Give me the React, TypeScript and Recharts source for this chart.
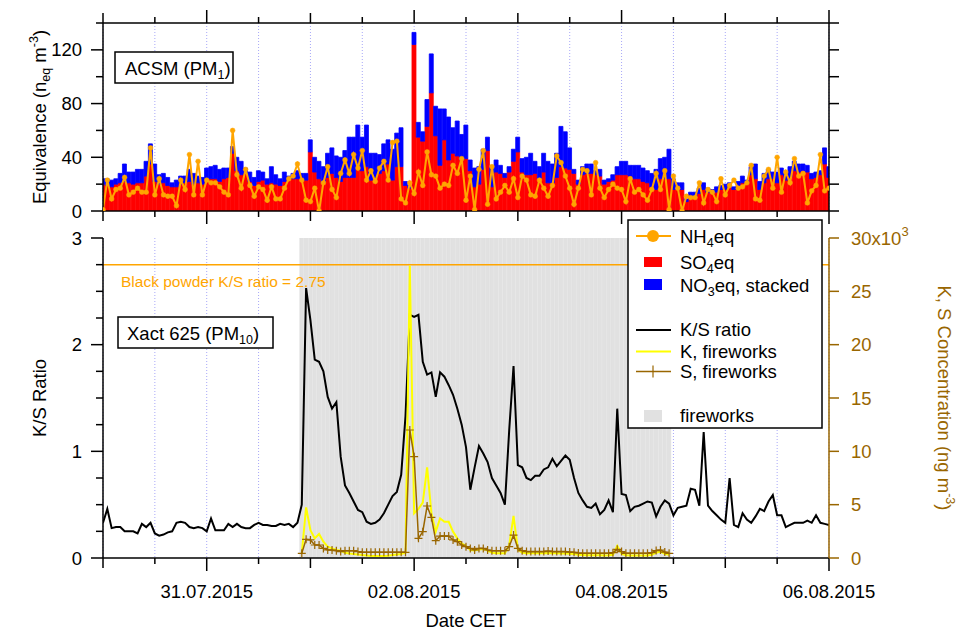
import React from 'react';
import { ComposedChart, Bar, Line, XAxis, YAxis, CartesianGrid, ReferenceLine } from 'recharts';

// ---------- DATA (hourly, hour 0 = 30.07.2015 00:00 CET) ----------
const so4eq = [
  20, 19, 18, 20, 21, 22, 21, 20, 21, 21,
  26, 35, 22, 20, 21, 19, 18, 18, 20, 21,
  22, 20, 21, 20, 23, 24, 24, 22, 24, 25,
  43, 30, 27, 28, 22, 19, 22, 23, 20, 21,
  20, 19, 22, 24, 24, 24, 24, 23, 44, 29,
  24, 21, 25, 28, 25, 22, 25, 25, 25, 33,
  30, 33, 23, 25, 28, 30, 35, 23, 33, 33,
  19, 17, 124, 55, 52, 63, 88, 56, 34, 53,
  38, 43, 41, 38, 39, 30, 18, 20, 31, 45,
  18, 29, 28, 25, 29, 37, 44, 29, 27, 27,
  28, 24, 29, 21, 21, 25, 33, 32, 31, 28,
  20, 27, 28, 28, 27, 26, 20, 22, 23, 27,
  27, 27, 26, 24, 24, 22, 21, 18, 16, 24,
  24, 24, 16, 16, 16, 7, 11, 11, 13, 16,
  14, 13, 14, 16, 16, 18, 16, 19, 21, 21,
  27, 24, 16, 21, 24, 24, 21, 27, 23, 25,
  30, 29, 30, 29, 24, 25, 27, 35, 25,
];

const no3eq = [
  4, 5, 5, 4, 7, 13, 8, 9, 10, 10,
  11, 15, 13, 7, 7, 6, 3, 5, 6, 5,
  9, 8, 5, 5, 9, 9, 10, 9, 8, 7,
  5, 10, 10, 4, 7, 6, 8, 6, 4, 12,
  7, 5, 7, 2, 4, 6, 4, 5, 9, 11,
  13, 12, 18, 19, 16, 18, 20, 30, 30, 31,
  25, 31, 20, 18, 14, 20, 18, 23, 25, 29,
  3, 2, 9, 11, 7, 20, 29, 22, 42, 23,
  32, 19, 26, 19, 25, 8, 14, 13, 15, 10,
  15, 9, 6, 3, 4, 9, 11, 10, 13, 16,
  9, 9, 14, 16, 14, 18, 30, 27, 16, 3,
  3, 6, 7, 7, 3, 5, 3, 2, 4, 6,
  10, 10, 8, 10, 10, 10, 9, 10, 15, 15,
  16, 22, 8, 5, 5, 2, 3, 3, 4, 5,
  3, 3, 4, 3, 4, 3, 2, 3, 5, 2,
  6, 11, 6, 7, 7, 5, 8, 5, 5, 8,
  7, 6, 5, 5, 4, 4, 3, 12, 8,
];

const nh4eq = [
  1, 23, 9, 16, 17, 25, 12, 14, 17, 14,
  14, 47, 12, 24, 12, 11, 11, 4, 23, 16,
  42, 12, 37, 12, 23, 21, 21, 18, 14, 12,
  60, 27, 17, 31, 19, 11, 18, 16, 8, 18,
  9, 9, 17, 24, 26, 35, 23, 8, 7, 17,
  0, 21, 33, 16, 10, 28, 38, 28, 42, 32,
  45, 23, 30, 22, 32, 37, 23, 51, 52, 9,
  6, 21, 13, 29, 19, 44, 27, 26, 17, 20,
  19, 34, 28, 39, 8, 26, 1, 31, 45, 5,
  33, 9, 14, 19, 14, 24, 10, 26, 23, 12,
  11, 23, 17, 11, 19, 41, 36, 26, 17, 5,
  17, 31, 30, 12, 36, 17, 10, 16, 20, 17,
  16, 7, 24, 14, 16, 12, 8, 16, 28, 16,
  30, 1, 26, 17, 0, 11, 10, 10, 21, 6,
  16, 14, 7, 24, 12, 19, 23, 17, 18, 21,
  34, 9, 8, 26, 31, 17, 40, 14, 29, 21,
  39, 26, 28, 6, 15, 19, 42, 15, 17,
];

const ksRatio = [
  0.33, 0.46, 0.28, 0.29, 0.29, 0.25, 0.25, 0.25, 0.23, 0.32,
  0.29, 0.33, 0.23, 0.21, 0.22, 0.24, 0.25, 0.33, 0.34, 0.33,
  0.29, 0.28, 0.29, 0.28, 0.25, 0.37, 0.26, 0.26, 0.26, 0.32,
  0.29, 0.32, 0.29, 0.28, 0.28, 0.31, 0.33, 0.31, 0.31, 0.30,
  0.30, 0.32, 0.31, 0.32, 0.29, 0.33, 0.50, 2.53, 2.23, 1.86,
  1.84, 1.75, 1.51, 1.40, 1.46, 0.95, 0.68, 0.61, 0.53, 0.45,
  0.43, 0.34, 0.32, 0.33, 0.36, 0.42, 0.50, 0.58, 0.62, 0.78,
  1.33, 2.28, 2.26, 2.28, 1.84, 1.72, 1.74, 1.51, 1.74, 1.70,
  1.62, 1.53, 1.40, 1.25, 1.04, 0.64, 0.85, 1.05, 0.98, 0.90,
  0.75, 0.68, 0.61, 0.50, 1.20, 1.80, 0.87, 0.85, 0.75, 0.73,
  0.77, 0.77, 0.83, 0.85, 0.93, 0.86, 0.91, 0.96, 0.92, 0.75,
  0.61, 0.54, 0.48, 0.47, 0.51, 0.41, 0.45, 0.54, 0.43, 1.40,
  0.60, 0.59, 0.44, 0.48, 0.49, 0.51, 0.53, 0.52, 0.39, 0.48,
  0.54, 0.51, 0.40, 0.47, 0.48, 0.49, 0.65, 0.64, 0.49, 1.18,
  0.49, 0.44, 0.40, 0.36, 0.33, 0.75, 0.31, 0.29, 0.42, 0.36,
  0.33, 0.39, 0.46, 0.44, 0.53, 0.59, 0.40, 0.40, 0.29, 0.31,
  0.33, 0.33, 0.33, 0.35, 0.33, 0.40, 0.33, 0.32, 0.31,
];

// fireworks period: hours 46 .. 131
const fireworksStart = 46;
const fireworksEnd = 131;

const kFireworks = [
  440, 4750, 2600, 1840, 2250, 1530, 1060, 900, 750, 690,
  500, 430, 375, 330, 280, 240, 190, 190, 190, 190,
  220, 280, 330, 375, 500, 27400, 4190, 4600, 5200, 8500,
  4200, 2470, 3720, 3400, 3400, 2470, 1840, 1375, 1125, 750,
  700, 800, 850, 700, 500, 450, 450, 450, 1200, 3940,
  800, 500, 450, 450, 450, 450, 450, 480, 450, 450,
  430, 430, 400, 380, 300, 280, 250, 250, 250, 250,
  230, 250, 300, 1125, 400, 250, 230, 230, 230, 230,
  230, 300, 500, 600, 400, 300,
];

const sFireworks = [
  440, 1750, 1690, 1220, 1220, 900, 750, 750, 690, 600,
  690, 690, 690, 600, 530, 530, 530, 530, 530, 530,
  530, 530, 530, 530, 530, 12000, 9500, 1840, 2470, 4875,
  3800, 1625, 2060, 2060, 2060, 1690, 1530, 1220, 1060, 900,
  750, 900, 900, 750, 690, 690, 690, 690, 1060, 2150,
  900, 690, 600, 600, 600, 600, 600, 650, 600, 600,
  600, 600, 560, 530, 470, 440, 440, 440, 440, 440,
  440, 440, 500, 810, 600, 440, 440, 440, 440, 440,
  440, 500, 700, 750, 560, 440,
];

const blackPowderRatio = 2.75;

const xTicks = [0, 12, 24, 36, 48, 60, 72, 84, 96, 108, 120, 132, 144, 156, 168];
const labelHours = [24, 72, 120, 168];
const dateLabels = ['31.07.2015', '02.08.2015', '04.08.2015', '06.08.2015'];
const topYTicks = [0, 20, 40, 60, 80, 100, 120, 140];
const ksTicks = [0, 0.25, 0.5, 0.75, 1, 1.25, 1.5, 1.75, 2, 2.25, 2.5, 2.75, 3];
const concTicks = [0, 5000, 10000, 15000, 20000, 25000, 30000];

// ---------- build tables ----------
const topData = so4eq.map((v, i) => ({ h: i, so4: v, no3: no3eq[i], nh4: nh4eq[i] }));
const bottomData = ksRatio.map((v, i) => {
  const inFw = i >= fireworksStart && i <= fireworksEnd;
  return {
    h: i,
    ks: v,
    k: inFw ? kFireworks[i - fireworksStart] : null,
    s: inFw ? sFireworks[i - fireworksStart] : null,
    fw: inFw ? 3 : null,
  };
});

// ---------- styles ----------
const FONT = '"Liberation Sans", Arial, Helvetica, sans-serif';
const FS = 18.5;
const RED = '#FF0000';
const BLUE = '#0000FF';
const ORANGE = '#FFA500';
const YELLOW = '#FFFF00';
const BROWN = '#996600';
const GRAY = '#E1E1E1';
const GRID = '#A8A8F8';

const W = 963;
const PLOT_L = 103;
const PLOT_R = 829;

function xTickLen(v: number) {
  if (labelHours.includes(v)) return 13;
  if (v % 24 === 0) return 10;
  return 6;
}

const TopEdgeTick = (p: any) => {
  const { x, y, payload } = p;
  const len = xTickLen(payload.value);
  return <line x1={x} x2={x} y1={y} y2={y - len} stroke="#000" strokeWidth={1.5} />;
};

const TopBottomTick = (p: any) => {
  const { x, y, payload } = p;
  const len = xTickLen(payload.value);
  return <line x1={x} x2={x} y1={y} y2={y + len} stroke="#000" strokeWidth={1.5} />;
};

const DateTick = (p: any) => {
  const { x, y, payload } = p;
  const v = payload.value;
  const i = labelHours.indexOf(v);
  return (
    <g>
      <line x1={x} x2={x} y1={y} y2={y + xTickLen(v)} stroke="#000" strokeWidth={1.5} />
      {i >= 0 && (
        <text x={x} y={y + 40} textAnchor="middle" fontSize={FS} fontFamily={FONT} fill="#000">
          {dateLabels[i]}
        </text>
      )}
    </g>
  );
};

const TopLeftTick = (p: any) => {
  const { x, y, payload } = p;
  const v = payload.value;
  const major = v % 40 === 0;
  return (
    <g>
      <line x1={x} x2={x - (major ? 12 : 7)} y1={y} y2={y} stroke="#000" strokeWidth={1.5} />
      {major && (
        <text x={x - 21} y={y + 6.5} textAnchor="end" fontSize={FS} fontFamily={FONT} fill="#000">
          {v}
        </text>
      )}
    </g>
  );
};

const TopRightTick = (p: any) => {
  const { x, y } = p;
  return <line x1={x} x2={x + 10} y1={y} y2={y} stroke="#000" strokeWidth={1.5} />;
};

const KsTick = (p: any) => {
  const { x, y, payload } = p;
  const v = payload.value;
  const major = Number.isInteger(v);
  return (
    <g>
      <line x1={x} x2={x - (major ? 12 : 7)} y1={y} y2={y} stroke="#000" strokeWidth={1.5} />
      {major && (
        <text x={x - 21} y={y + 6.5} textAnchor="end" fontSize={FS} fontFamily={FONT} fill="#000">
          {v}
        </text>
      )}
    </g>
  );
};

const ConcTick = (p: any) => {
  const { x, y, payload } = p;
  const v = payload.value / 1000;
  return (
    <g>
      <line x1={x} x2={x + 10} y1={y} y2={y} stroke={BROWN} strokeWidth={1.5} />
      <text x={x + 22} y={y + 6.5} textAnchor="start" fontSize={FS} fontFamily={FONT} fill={BROWN}>
        {v === 30 ? (
          <>
            30x10<tspan fontSize={13} dy={-9}>3</tspan>
          </>
        ) : (
          v
        )}
      </text>
    </g>
  );
};

const PlusDot = (props: any) => {
  const { cx, cy, index } = props;
  if (cx == null || cy == null || Number.isNaN(cy)) return <g key={`pd${index}`} />;
  return (
    <path
      key={`pd${index}`}
      d={`M${cx - 4},${cy}H${cx + 4}M${cx},${cy - 4}V${cy + 4}`}
      stroke={BROWN}
      strokeWidth={1.2}
      fill="none"
    />
  );
};

function TopChart() {
  return (
    <div style={{ position: 'absolute', left: 0, top: 0 }}>
      <ComposedChart
        width={W}
        height={240}
        data={topData}
        margin={{ top: 0, right: 0, bottom: 0, left: 0 }}
        barCategoryGap={0}
        barGap={0}
      >
        <CartesianGrid
          xAxisId="b"
          yAxisId="l"
          horizontal={false}
          stroke={GRID}
          strokeDasharray="1 2"
        />
        <XAxis
          xAxisId="t"
          orientation="top"
          type="number"
          dataKey="h"
          domain={[0, 168]}
          ticks={xTicks}
          interval={0}
          height={23}
          tickSize={0}
          tickMargin={0}
          tickLine={false}
          tick={TopEdgeTick}
          axisLine={{ stroke: '#000', strokeWidth: 1.5 }}
          allowDataOverflow
        />
        <XAxis
          xAxisId="b"
          orientation="bottom"
          type="number"
          dataKey="h"
          domain={[0, 168]}
          ticks={xTicks}
          interval={0}
          height={29}
          tickSize={0}
          tickMargin={0}
          tickLine={false}
          tick={TopBottomTick}
          axisLine={{ stroke: '#000', strokeWidth: 1.5 }}
          allowDataOverflow
        />
        <YAxis
          yAxisId="l"
          orientation="left"
          type="number"
          domain={[0, 140]}
          ticks={topYTicks}
          interval={0}
          width={PLOT_L}
          tickSize={0}
          tickMargin={0}
          tickLine={false}
          tick={TopLeftTick}
          axisLine={{ stroke: '#000', strokeWidth: 1.5 }}
          allowDataOverflow
        />
        <YAxis
          yAxisId="r"
          orientation="right"
          type="number"
          domain={[0, 140]}
          ticks={topYTicks}
          interval={0}
          width={W - PLOT_R}
          tickSize={0}
          tickMargin={0}
          tickLine={false}
          tick={TopRightTick}
          axisLine={{ stroke: '#000', strokeWidth: 1.5 }}
          allowDataOverflow
        />
        <Bar
          xAxisId="b"
          yAxisId="l"
          dataKey="so4"
          stackId="eq"
          fill={RED}
          stroke={RED}
          strokeWidth={0.8}
          isAnimationActive={false}
        />
        <Bar
          xAxisId="b"
          yAxisId="l"
          dataKey="no3"
          stackId="eq"
          fill={BLUE}
          stroke={BLUE}
          strokeWidth={0.8}
          isAnimationActive={false}
        />
        <Line
          xAxisId="b"
          yAxisId="l"
          dataKey="nh4"
          stroke={ORANGE}
          strokeWidth={2}
          dot={{ r: 2.4, fill: ORANGE, stroke: ORANGE, strokeWidth: 0.5 }}
          activeDot={false}
          isAnimationActive={false}
        />
      </ComposedChart>
    </div>
  );
}

function BottomChart() {
  return (
    <div style={{ position: 'absolute', left: 0, top: 215 }}>
      <ComposedChart
        width={W}
        height={416}
        data={bottomData}
        margin={{ top: 23, right: 0, bottom: 0, left: 0 }}
        barCategoryGap={0}
        barGap={0}
      >
        <CartesianGrid
          xAxisId="b"
          yAxisId="l"
          horizontal={false}
          stroke={GRID}
          strokeDasharray="1 2"
        />
        <XAxis
          xAxisId="b"
          orientation="bottom"
          type="number"
          dataKey="h"
          domain={[0, 168]}
          ticks={xTicks}
          interval={0}
          height={73}
          tickSize={0}
          tickMargin={0}
          tickLine={false}
          tick={DateTick}
          axisLine={{ stroke: '#000', strokeWidth: 1.5 }}
          allowDataOverflow
        />
        <YAxis
          yAxisId="l"
          orientation="left"
          type="number"
          domain={[0, 3]}
          ticks={ksTicks}
          interval={0}
          width={PLOT_L}
          tickSize={0}
          tickMargin={0}
          tickLine={false}
          tick={KsTick}
          axisLine={{ stroke: '#000', strokeWidth: 1.5 }}
          allowDataOverflow
        />
        <YAxis
          yAxisId="r"
          orientation="right"
          type="number"
          domain={[0, 30000]}
          ticks={concTicks}
          interval={0}
          width={W - PLOT_R}
          tickSize={0}
          tickMargin={0}
          tickLine={false}
          tick={ConcTick}
          axisLine={{ stroke: BROWN, strokeWidth: 1.5 }}
          allowDataOverflow
        />
        <Bar
          xAxisId="b"
          yAxisId="l"
          dataKey="fw"
          fill={GRAY}
          stroke={GRAY}
          strokeWidth={0.4}
          isAnimationActive={false}
        />
        <ReferenceLine
          xAxisId="b"
          yAxisId="l"
          y={blackPowderRatio}
          stroke={ORANGE}
          strokeWidth={1.5}
        />
        <Line
          xAxisId="b"
          yAxisId="l"
          dataKey="ks"
          stroke="#000"
          strokeWidth={2}
          dot={false}
          activeDot={false}
          isAnimationActive={false}
        />
        <Line
          xAxisId="b"
          yAxisId="r"
          dataKey="k"
          stroke={YELLOW}
          strokeWidth={2}
          dot={false}
          activeDot={false}
          connectNulls={false}
          isAnimationActive={false}
        />
        <Line
          xAxisId="b"
          yAxisId="r"
          dataKey="s"
          stroke={BROWN}
          strokeWidth={1.5}
          dot={PlusDot}
          activeDot={false}
          connectNulls={false}
          isAnimationActive={false}
        />
      </ComposedChart>
    </div>
  );
}

function Overlay() {
  const t = { fontFamily: FONT, fontSize: FS, fill: '#000' } as any;
  return (
    <svg
      width={W}
      height={631}
      style={{ position: 'absolute', left: 0, top: 0, pointerEvents: 'none' }}
    >
      {/* panel labels */}
      <rect x={115} y={52} width={118} height={31} fill="#fff" stroke="#000" strokeWidth={1.5} />
      <text x={125} y={75} {...t}>
        ACSM (PM<tspan fontSize={12.5} dy={4}>1</tspan>
        <tspan dy={-4}>)</tspan>
      </text>
      <rect x={118} y={317} width={155} height={31} fill="#fff" stroke="#000" strokeWidth={1.5} />
      <text x={127} y={340} {...t}>
        Xact 625 (PM<tspan fontSize={12.5} dy={4}>10</tspan>
        <tspan dy={-4}>)</tspan>
      </text>

      {/* black powder label */}
      <text x={121} y={287} fontFamily={FONT} fontSize={15.5} fill={ORANGE}>
        Black powder K/S ratio = 2.75
      </text>

      {/* axis titles */}
      <text transform="rotate(-90 46 117)" x={46} y={117} textAnchor="middle" {...t}>
        Equivalence (n<tspan fontSize={12.5} dy={4}>eq</tspan>
        <tspan dy={-4}> m</tspan>
        <tspan fontSize={12.5} dy={-8}>-3</tspan>
        <tspan dy={8}>)</tspan>
      </text>
      <text transform="rotate(-90 46 398)" x={46} y={398} textAnchor="middle" {...t}>
        K/S Ratio
      </text>
      <text x={466} y={627} textAnchor="middle" {...t}>
        Date CET
      </text>
      <text
        transform="rotate(90 938 398)"
        x={938}
        y={398}
        textAnchor="middle"
        fontFamily={FONT}
        fontSize={FS}
        fill={BROWN}
      >
        K, S Concentration (ng m<tspan fontSize={12.5} dy={-8}>-3</tspan>
        <tspan dy={8}>)</tspan>
      </text>

      {/* legend */}
      <rect x={628} y={220} width={194} height={208} fill="#fff" stroke="#000" strokeWidth={1.5} />
      <line x1={636} x2={671} y1={236} y2={236} stroke={ORANGE} strokeWidth={2} />
      <circle cx={653} cy={236} r={6} fill={ORANGE} />
      <text x={680} y={243} {...t}>
        NH<tspan fontSize={12.5} dy={4}>4</tspan>
        <tspan dy={-4}>eq</tspan>
      </text>
      <rect x={644} y={257} width={18} height={10} fill={RED} />
      <text x={680} y={269} {...t}>
        SO<tspan fontSize={12.5} dy={4}>4</tspan>
        <tspan dy={-4}>eq</tspan>
      </text>
      <rect x={644} y={279} width={18} height={11} fill={BLUE} />
      <text x={680} y={291.5} {...t}>
        NO<tspan fontSize={12.5} dy={4}>3</tspan>
        <tspan dy={-4}>eq, stacked</tspan>
      </text>
      <line x1={636} x2={671} y1={330} y2={330} stroke="#000" strokeWidth={2} />
      <text x={680} y={336} {...t}>K/S ratio</text>
      <line x1={636} x2={671} y1={351.5} y2={351.5} stroke={YELLOW} strokeWidth={2} />
      <text x={680} y={357.5} {...t}>K, fireworks</text>
      <line x1={636} x2={671} y1={371.5} y2={371.5} stroke={BROWN} strokeWidth={1.5} />
      <path d="M653,365.5V377.5" stroke={BROWN} strokeWidth={1.2} />
      <text x={680} y={377.5} {...t}>S, fireworks</text>
      <rect x={644} y={410} width={18} height={12} fill={GRAY} />
      <text x={680} y={421.5} {...t}>fireworks</text>
    </svg>
  );
}

export default function App() {
  return (
    <div
      style={{
        position: 'absolute',
        left: 0,
        top: 0,
        width: W,
        height: 631,
        background: '#fff',
        overflow: 'hidden',
        fontFamily: FONT,
      }}
    >
      <TopChart />
      <BottomChart />
      <Overlay />
    </div>
  );
}
